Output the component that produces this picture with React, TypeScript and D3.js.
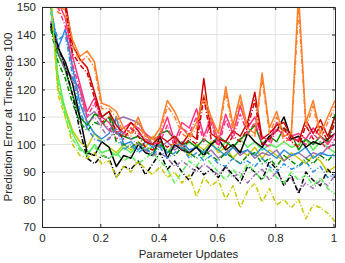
import React, { useEffect, useRef } from "react";
import * as d3 from "d3";

const steps = [0.03, 0.055, 0.08, 0.105, 0.13, 0.155, 0.18, 0.205, 0.23, 0.255,
  0.28, 0.305, 0.33, 0.355, 0.38, 0.405, 0.43, 0.455, 0.48, 0.505,
  0.53, 0.555, 0.58, 0.605, 0.63, 0.655, 0.68, 0.705, 0.73, 0.755,
  0.78, 0.805, 0.83, 0.855, 0.88, 0.905, 0.93, 0.955, 0.98, 1.005];

const xTicks = [0, 0.2, 0.4, 0.6, 0.8, 1];
const yTicks = [70, 80, 90, 100, 110, 120, 130, 140, 150];

// solid / dash-dot pairs, one colour each
const yellowSolid = [155, 120, 113, 105, 101, 99, 104, 101, 99, 97, 100, 98, 101, 99, 103, 100, 97, 101, 99, 96, 100, 98, 101, 97, 99, 95, 98, 96, 99, 95, 98, 96, 94, 97, 95, 93, 96, 94, 90, 92];
const yellowDash = [154, 118, 110, 100, 96, 95, 97, 93, 94, 88, 92, 90, 94, 91, 89, 92, 88, 90, 86, 89, 81, 88, 85, 87, 80, 85, 77, 83, 86, 79, 84, 78, 80, 77, 80, 73, 78, 77, 75, 72];
const lgreenSolid = [150, 125, 112, 104, 99, 96, 100, 97, 98, 96, 99, 97, 100, 98, 99, 101, 97, 100, 98, 101, 99, 97, 100, 98, 101, 99, 102, 99, 101, 98, 100, 99, 101, 99, 100, 102, 98, 101, 99, 97];
const lgreenDash = [152, 122, 110, 102, 98, 97, 99, 96, 95, 97, 94, 96, 93, 95, 97, 94, 91, 86, 90, 94, 92, 96, 93, 90, 87, 91, 88, 93, 90, 87, 91, 88, 86, 90, 87, 89, 85, 88, 84, 82];
const purpleSolid = [145, 136, 128, 124, 120, 110, 112, 108, 105, 109, 110, 109, 108, 104, 100, 99, 101, 98, 100, 97, 99, 96, 98, 95, 97, 99, 96, 98, 95, 97, 96, 98, 94, 96, 97, 95, 97, 96, 99, 100];
const purpleDash = [144, 134, 127, 123, 118, 108, 110, 106, 102, 106, 104, 102, 100, 98, 96, 97, 95, 92, 94, 92, 90, 93, 91, 89, 92, 88, 90, 86, 89, 91, 87, 90, 86, 88, 83, 86, 84, 87, 85, 89];
const blueSolid = [150, 135, 142, 128, 115, 108, 104, 102, 104, 110, 100, 101, 98, 101, 99, 100, 97, 99, 101, 98, 99, 97, 100, 98, 96, 99, 97, 98, 96, 99, 97, 95, 98, 96, 97, 99, 95, 97, 96, 96];
const blueDash = [148, 138, 140, 125, 112, 106, 102, 101, 102, 106, 98, 100, 97, 99, 96, 99, 95, 97, 99, 95, 97, 94, 96, 93, 92, 95, 93, 94, 92, 95, 92, 90, 93, 91, 92, 94, 90, 92, 88, 89];
const greenSolid = [143, 133, 127, 118, 110, 107, 111, 110, 112, 104, 103, 102, 103, 101, 100, 104, 105, 102, 100, 101, 99, 102, 100, 103, 101, 99, 102, 104, 107, 100, 103, 101, 106, 104, 98, 102, 100, 103, 101, 111];
const greenDash = [142, 130, 124, 115, 108, 105, 108, 107, 110, 101, 100, 99, 101, 98, 97, 100, 98, 96, 99, 97, 95, 98, 96, 94, 97, 95, 93, 96, 97, 93, 95, 92, 96, 94, 92, 95, 93, 96, 94, 97];
const blackSolid = [143, 135, 130, 122, 110, 97, 96, 101, 99, 92, 96, 95, 100, 97, 96, 103, 95, 100, 98, 97, 99, 96, 100, 102, 98, 100, 97, 104, 101, 99, 103, 105, 110, 102, 103, 99, 101, 100, 102, 104];
const blackDash = [144, 136, 128, 118, 105, 95, 93, 96, 95, 88, 92, 91, 94, 89, 93, 97, 91, 94, 90, 87, 92, 89, 91, 88, 92, 89, 86, 92, 90, 87, 94, 91, 85, 89, 82, 90, 87, 85, 91, 88];
const pinkSolid = [158, 152, 146, 132, 122, 112, 117, 110, 108, 104, 106, 108, 106, 104, 102, 103, 110, 101, 108, 106, 113, 103, 110, 101, 111, 104, 114, 106, 110, 103, 101, 108, 105, 103, 104, 102, 106, 103, 100, 104];
const pinkDash = [157, 150, 143, 129, 120, 110, 115, 108, 106, 102, 104, 106, 104, 102, 100, 101, 107, 99, 106, 104, 110, 101, 108, 99, 109, 102, 111, 104, 108, 101, 99, 106, 103, 101, 102, 100, 104, 101, 98, 102];
const redSolid = [160, 156, 152, 136, 131, 128, 119, 110, 112, 107, 104, 108, 105, 101, 100, 103, 101, 103, 100, 104, 102, 124, 104, 102, 101, 105, 103, 108, 119, 102, 104, 107, 108, 103, 101, 109, 104, 109, 103, 110];
const redDash = [159, 154, 150, 133, 129, 126, 117, 108, 110, 105, 102, 106, 103, 99, 98, 101, 99, 101, 98, 102, 100, 117, 102, 100, 99, 103, 101, 106, 116, 100, 102, 105, 106, 101, 99, 107, 102, 107, 101, 108];
const orangeSolid = [165, 150, 149, 138, 132, 134, 130, 115, 114, 112, 106, 104, 110, 103, 102, 106, 116, 112, 106, 103, 108, 118, 110, 104, 121, 107, 118, 106, 104, 126, 106, 112, 103, 104, 155, 108, 116, 104, 110, 116];
const orangeDash = [163, 148, 147, 136, 130, 132, 128, 113, 113, 110, 104, 103, 108, 102, 101, 104, 114, 110, 104, 102, 106, 116, 108, 102, 119, 105, 116, 104, 103, 124, 104, 110, 101, 102, 150, 106, 114, 102, 108, 114];

const series = [
  { name: "yellowSolid", values: yellowSolid, color: "#c8c800", dash: "" },
  { name: "lgreenSolid", values: lgreenSolid, color: "#55ee55", dash: "" },
  { name: "purpleSolid", values: purpleSolid, color: "#9e6fae", dash: "" },
  { name: "blueSolid", values: blueSolid, color: "#2a8ee0", dash: "" },
  { name: "greenSolid", values: greenSolid, color: "#008a00", dash: "" },
  { name: "blackSolid", values: blackSolid, color: "#000000", dash: "" },
  { name: "pinkSolid", values: pinkSolid, color: "#ff3380", dash: "" },
  { name: "redSolid", values: redSolid, color: "#cc0000", dash: "" },
  { name: "orangeSolid", values: orangeSolid, color: "#ff7f2a", dash: "" },
  { name: "orangeDash", values: orangeDash, color: "#ff7f2a", dash: "5,2,1,2" },
  { name: "redDash", values: redDash, color: "#cc0000", dash: "5,2,1,2" },
  { name: "pinkDash", values: pinkDash, color: "#ff3380", dash: "5,2,1,2" },
  { name: "greenDash", values: greenDash, color: "#008a00", dash: "5,2,1,2" },
  { name: "blueDash", values: blueDash, color: "#2a8ee0", dash: "5,2,1,2" },
  { name: "purpleDash", values: purpleDash, color: "#9e6fae", dash: "5,2,1,2" },
  { name: "blackDash", values: blackDash, color: "#000000", dash: "5,2,1,2" },
  { name: "lgreenDash", values: lgreenDash, color: "#55ee55", dash: "5,2,1,2" },
  { name: "yellowDash", values: yellowDash, color: "#c8c800", dash: "5,2,1,2" },
];

const App: React.FC = () => {
  const ref: any = useRef(null);

  useEffect(() => {
    const width = 345;
    const height = 263;
    const margin = { top: 7, right: 10, bottom: 36, left: 42 };
    const innerW = width - margin.left - margin.right;
    const innerH = height - margin.top - margin.bottom;
    const font = "'Liberation Sans', Arial, sans-serif";
    const axisColor = "#262626";

    const svg = d3.select(ref.current);
    svg.selectAll("*").remove();

    const x = d3.scaleLinear().domain([0, 1.005]).range([0, innerW]);
    const y = d3.scaleLinear().domain([70, 150]).range([innerH, 0]);

    svg.append("defs").append("clipPath").attr("id", "plotclip")
      .append("rect").attr("width", innerW).attr("height", innerH);

    const g = svg.append("g").attr("transform", `translate(${margin.left},${margin.top})`);

    // grid
    g.selectAll(".gx").data(xTicks.slice(1)).enter().append("line")
      .attr("x1", d => x(d)).attr("x2", d => x(d)).attr("y1", 0).attr("y2", innerH)
      .attr("stroke", "#e3e3e3").attr("stroke-width", 1);
    g.selectAll(".gy").data(yTicks.slice(1)).enter().append("line")
      .attr("y1", d => y(d)).attr("y2", d => y(d)).attr("x1", 0).attr("x2", innerW)
      .attr("stroke", "#e3e3e3").attr("stroke-width", 1);

    // lines
    const line = d3.line<number>()
      .x((_, i) => x(steps[i]))
      .y(d => y(d));

    const lines = g.append("g").attr("clip-path", "url(#plotclip)");
    series.forEach(s => {
      lines.append("path")
        .datum(s.values)
        .attr("fill", "none")
        .attr("stroke", s.color)
        .attr("stroke-width", 1.5)
        .attr("stroke-dasharray", s.dash || null)
        .attr("stroke-linejoin", "round")
        .attr("d", line);
    });

    // axes (MATLAB style box, ticks inward)
    const xAxis = d3.axisBottom(x).tickValues(xTicks).tickSizeInner(-3).tickSizeOuter(0).tickPadding(7)
      .tickFormat(d => d3.format("~g")(d as number));
    const yAxis = d3.axisLeft(y).tickValues(yTicks).tickSizeInner(-3).tickSizeOuter(0).tickPadding(6);
    const xTop = d3.axisTop(x).tickValues(xTicks).tickSizeInner(-3).tickSizeOuter(0).tickFormat(() => "");
    const yRight = d3.axisRight(y).tickValues(yTicks).tickSizeInner(-3).tickSizeOuter(0).tickFormat(() => "");

    const styleAxis = (sel: any) => {
      sel.selectAll("path").attr("stroke", axisColor).attr("stroke-width", 1);
      sel.selectAll("line").attr("stroke", axisColor).attr("stroke-width", 1);
      sel.selectAll("text").attr("fill", axisColor).style("font-family", font).style("font-size", "11.5px");
    };

    g.append("g").attr("transform", `translate(0,${innerH})`).call(xAxis).call(styleAxis);
    g.append("g").call(yAxis).call(styleAxis);
    g.append("g").call(xTop).call(styleAxis);
    g.append("g").attr("transform", `translate(${innerW},0)`).call(yRight).call(styleAxis);

    // labels
    svg.append("text")
      .attr("x", margin.left + innerW / 2)
      .attr("y", height - 5)
      .attr("text-anchor", "middle")
      .attr("fill", axisColor)
      .style("font-family", font)
      .style("font-size", "11.5px")
      .text("Parameter Updates");

    svg.append("text")
      .attr("transform", `translate(12,${margin.top + innerH / 2}) rotate(-90)`)
      .attr("text-anchor", "middle")
      .attr("fill", axisColor)
      .style("font-family", font)
      .style("font-size", "11.5px")
      .text("Prediction Error at Time-step 100");
  }, []);

  return (
    <svg ref={ref} width={345} height={263}
      style={{ position: "absolute", left: 0, top: 0, background: "#fff" }} />
  );
};

export default App;
